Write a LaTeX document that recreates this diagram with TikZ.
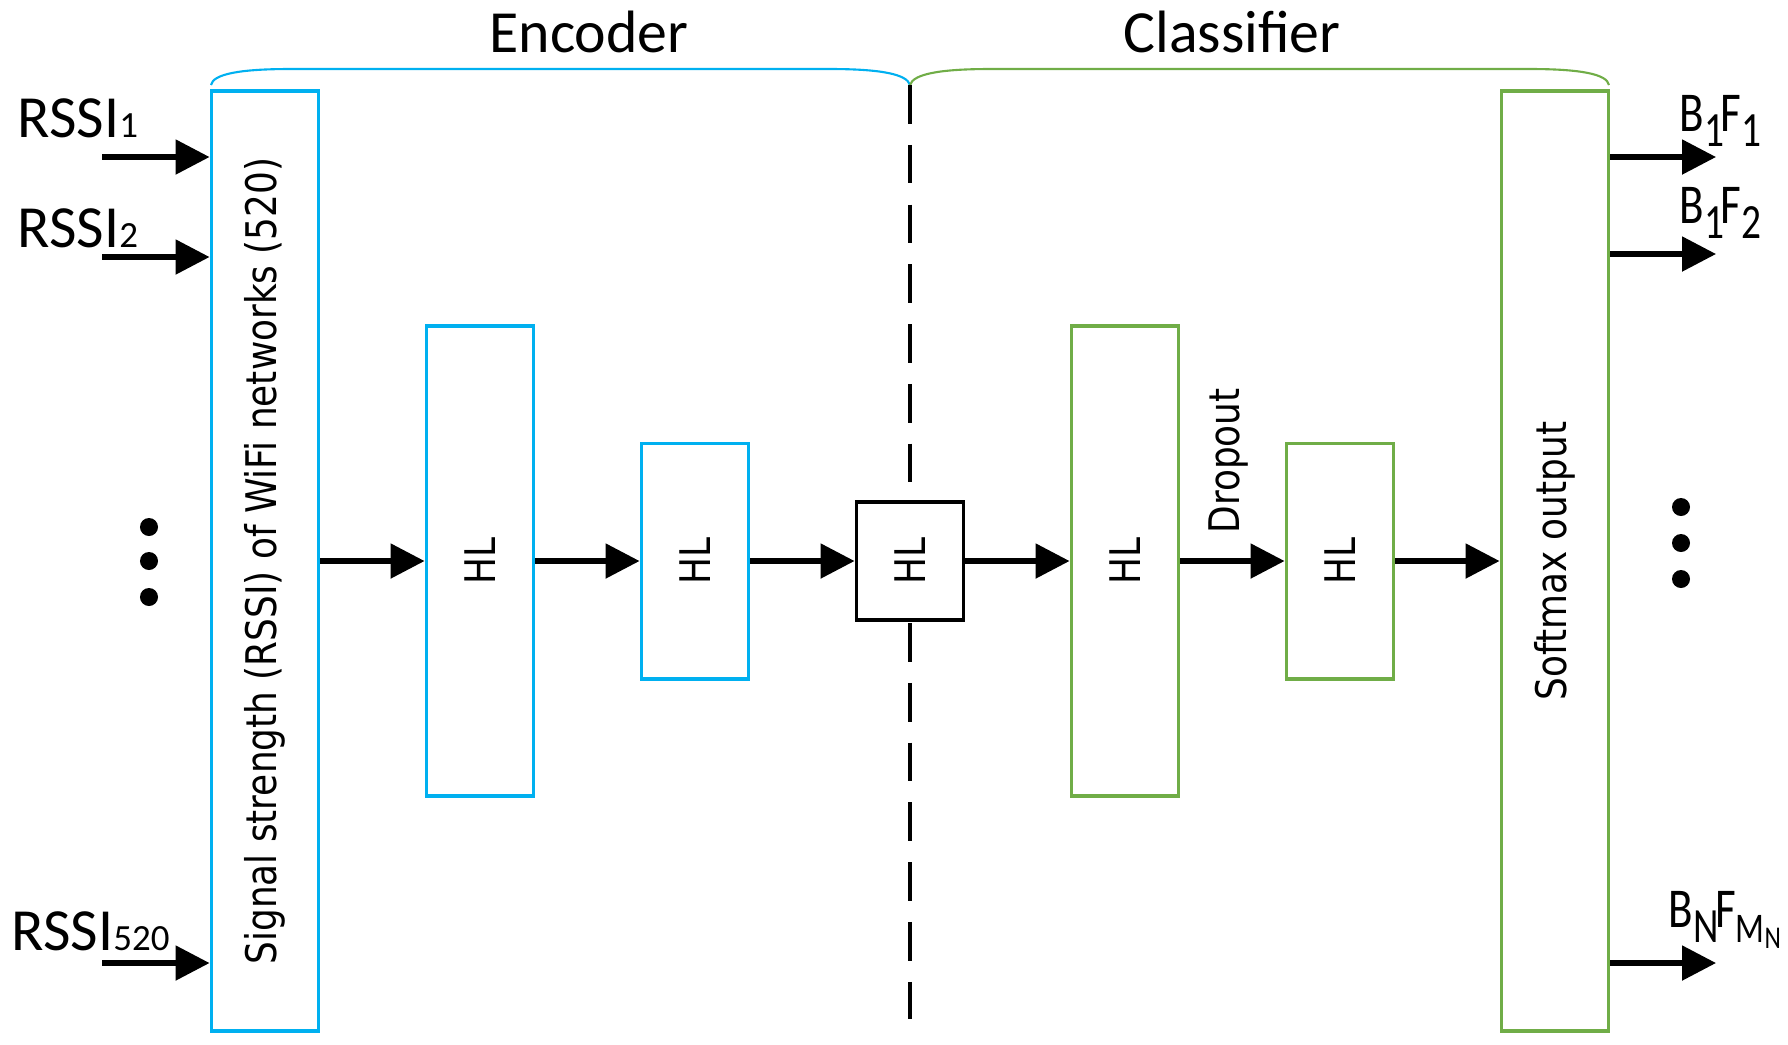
\documentclass[tikz,border=0pt]{standalone}
\usepackage{fontspec}
\setmainfont{Carlito}
\newfontfamily\boxfont{DejaVu Sans}[FakeStretch=0.85]
\newfontfamily\narrowfont{Carlito}[FakeStretch=0.8]
\usetikzlibrary{arrows.meta,calc,positioning}
\definecolor{encblue}{RGB}{0,176,240}
\definecolor{clsgreen}{RGB}{112,173,71}
\newcommand{\lowidx}[1]{{\fontsize{10.5}{12}\selectfont #1}}
\newcommand{\outidx}[1]{\raisebox{-4.5pt}{\fontsize{14}{15}\selectfont #1}}
\tikzset{layer/.style={%
        rectangle,
        minimum width=1.07cm,
        inner sep=0pt,
        line width=1.1pt,
        fill=white,
        font=\boxfont\fontsize{12}{14}\selectfont,
        draw}}
\tikzset{enc/.style={layer,draw=encblue}}
\tikzset{cls/.style={layer,draw=clsgreen}}
\tikzset{link/.style={line width=1.5pt,-{Triangle[length=0.34cm,width=0.34cm]}}}
\tikzset{lbl/.style={font=\fontsize{17}{20}\selectfont,inner sep=0pt}}
\tikzset{olbl/.style={font=\narrowfont\fontsize{16}{18}\selectfont,inner sep=0pt}}

\begin{document}
\begin{tikzpicture}[x=0.01cm,y=-0.01cm]
  \useasboundingbox (0,0) rectangle (1788,1044);
  % braces over the two halves
  \draw [encblue,line width=0.6pt] (211,85) .. controls (213,74) and (240,69) .. (290,69) -- (830,69) .. controls (880,69) and (907,74) .. (910,85);
  \draw [clsgreen,line width=0.6pt] (910,85) .. controls (913,74) and (940,69) .. (990,69) -- (1530,69) .. controls (1580,69) and (1607,74) .. (1609,85);
  \node [lbl,anchor=base] (enctxt) at (589,52) {Encoder};
  \node [lbl,anchor=base] (clstxt) at (1232,52) {Classifier};
  % split line
  \coordinate (dtop) at (910,85);
  \coordinate (dbot) at (910,1019);
  \draw [line width=1.3pt,dash pattern=on 11pt off 6pt] (dtop) -- (dbot);
  % layers
  \node [enc,minimum height=9.39cm] (inp) at (265,561) {\rotatebox{90}{Signal strength (RSSI) of WiFi networks (520)}};
  \node [enc,minimum height=4.69cm] (e1) at (480,561) {\rotatebox{90}{HL}};
  \node [enc,minimum height=2.35cm] (e2) at (695,561) {\rotatebox{90}{HL}};
  \node [layer,minimum height=1.18cm] (code) at (910,561) {\rotatebox{90}{HL}};
  \node [cls,minimum height=4.69cm] (c1) at (1125,561) {\rotatebox{90}{HL}};
  \node [cls,minimum height=2.35cm] (c2) at (1340,561) {\rotatebox{90}{HL}};
  \node [cls,minimum height=9.39cm] (out) at (1555,561) {\rotatebox{90}{Softmax output}};
  \node [font=\boxfont\fontsize{12}{14}\selectfont,inner sep=0pt] (drop) at (1228,461) {\rotatebox{90}{Dropout}};
  \draw [link] (inp) -- (e1);
  \draw [link] (e1) -- (e2);
  \draw [link] (e2) -- (code);
  \draw [link] (code) -- (c1);
  \draw [link] (c1) -- (c2);
  \draw [link] (c2) -- (out);
  % inputs
  \coordinate (r1) at (102,157);
  \coordinate (r2) at (102,257);
  \coordinate (r520) at (102,963);
  \draw [link] (r1) -- (r1 -| inp.west);
  \draw [link] (r2) -- (r2 -| inp.west);
  \draw [link] (r520) -- (r520 -| inp.west);
  \node [lbl,anchor=base west] (l1) at (17,137) {RSSI\lowidx{1}};
  \node [lbl,anchor=base west] (l2) at (17,247) {RSSI\lowidx{2}};
  \node [lbl,anchor=base west] (l520) at (11,950) {RSSI\lowidx{520}};
  \foreach \y in {527,561,597} \fill (149,\y) circle (0.09cm);
  % outputs
  \coordinate (o1) at (1716,157);
  \coordinate (o2) at (1716,254);
  \coordinate (on) at (1716,963);
  \draw [link] (o1 -| out.east) -- (o1);
  \draw [link] (o2 -| out.east) -- (o2);
  \draw [link] (on -| out.east) -- (on);
  \node [olbl,anchor=base west] (b1) at (1679,131) {B\outidx{1}\kern-1pt F\outidx{1}};
  \node [olbl,anchor=base west] (b2) at (1679,223) {B\outidx{1}\kern-1pt F\outidx{2}};
  \node [olbl,anchor=base west] (bn) at (1668,927) {B\outidx{N}\kern-1pt F\raisebox{-4.5pt}{\fontsize{12}{13}\selectfont M\raisebox{-1.5pt}{\fontsize{9}{10}\selectfont N}}};
  \foreach \y in {507,543,579} \fill (1681,\y) circle (0.09cm);
\end{tikzpicture}
\end{document}
